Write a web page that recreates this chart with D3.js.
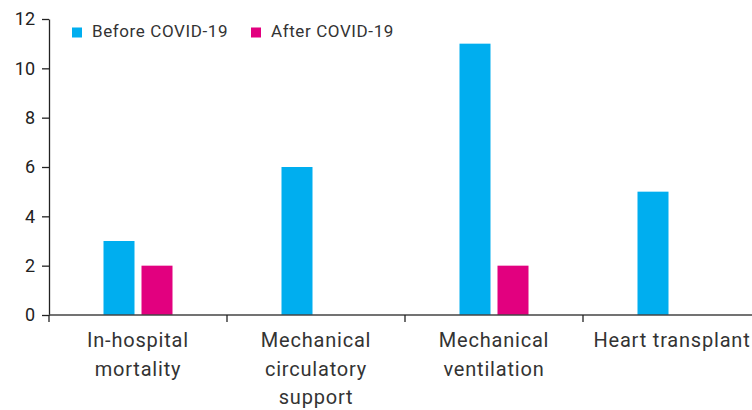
<!DOCTYPE html>
<html><head><meta charset="utf-8">
<script src="https://cdn.jsdelivr.net/npm/d3@7"></script>
<style>
body{margin:0;background:#fff;}
svg{display:block;font-family:Roboto, "Liberation Sans", sans-serif;}
</style></head><body>
<svg id="chart" width="752" height="410"></svg>
<script>
const categories = [["In-hospital","mortality"],["Mechanical","circulatory","support"],["Mechanical","ventilation"],["Heart transplant"]];
const seriesNames = ["Before COVID-19","After COVID-19"];
const before = [3, 6, 11, 5];
const after = [2, null, 2, null];
const yTicks = [0, 2, 4, 6, 8, 10, 12];
const colors = ["#00aeef", "#e2007f"];

(function(){
const svg = d3.select("#chart");
const mL = 49, mR = 761, mT = 19, mB = 315;
const x = d3.scaleBand().domain(d3.range(categories.length)).range([mL, mR]);
const y = d3.scaleLinear().domain([0, 12]).range([mB, mT]);
const xs = d3.scaleBand().domain([0,1]).range([0, 69]).paddingInner(2 - 69/38);

// bars
[before, after].forEach((s, si) => {
  svg.append("g").selectAll("rect")
    .data(s.map((v,i)=>({v,i})).filter(d => d.v != null))
    .join("rect")
    .attr("x", d => x(d.i) + x.bandwidth()/2 - 34.5 + xs(si))
    .attr("width", xs.bandwidth())
    .attr("y", d => y(d.v))
    .attr("height", d => mB - y(d.v))
    .attr("fill", colors[si]);
});

// y axis
const yAxis = svg.append("g").attr("transform", `translate(${mL},0)`)
  .call(d3.axisLeft(y).tickValues(yTicks).tickSize(7).tickPadding(7).tickSizeOuter(0));
yAxis.select(".domain").attr("stroke", "#222").attr("stroke-width", 1.3);
yAxis.selectAll(".tick line").attr("stroke", "#222").attr("stroke-width", 1.3);
yAxis.selectAll(".tick text").attr("font-size", 18).attr("fill", "#222").attr("font-family", "Roboto, sans-serif");

// x axis
const xAxisG = svg.append("g").attr("transform", `translate(0,${mB})`);
xAxisG.append("line").attr("x1", mL).attr("x2", mR).attr("stroke", "#444").attr("stroke-width", 1.6);
xAxisG.selectAll("line.tk").data(categories).join("line").attr("class","tk")
  .attr("x1", (d,i)=>x(i)).attr("x2",(d,i)=>x(i)).attr("y1",0).attr("y2",7)
  .attr("stroke","#222").attr("stroke-width",1.3);
xAxisG.selectAll("text.lab").data(categories).join("text").attr("class","lab")
  .attr("text-anchor","middle").attr("font-size",20).attr("letter-spacing","0.8px").attr("fill","#333")
  .attr("transform",(d,i)=>`translate(${x(i)+x.bandwidth()/2},32)`)
  .selectAll("tspan").data(d=>d).join("tspan")
  .attr("x",0).attr("dy",(d,j)=> j===0 ? 0 : 28.5).text(d=>d);

// legend
const legend = svg.append("g");
const lx = [72, 251];
seriesNames.forEach((n,i)=>{
  legend.append("rect").attr("x",lx[i]).attr("y",27.5).attr("width",10).attr("height",10).attr("fill",colors[i]);
  legend.append("text").attr("x",lx[i]+20).attr("y",37).attr("font-size",17).attr("letter-spacing","0.6px").attr("fill","#333").text(n);
});
})();
</script>
</body></html>
